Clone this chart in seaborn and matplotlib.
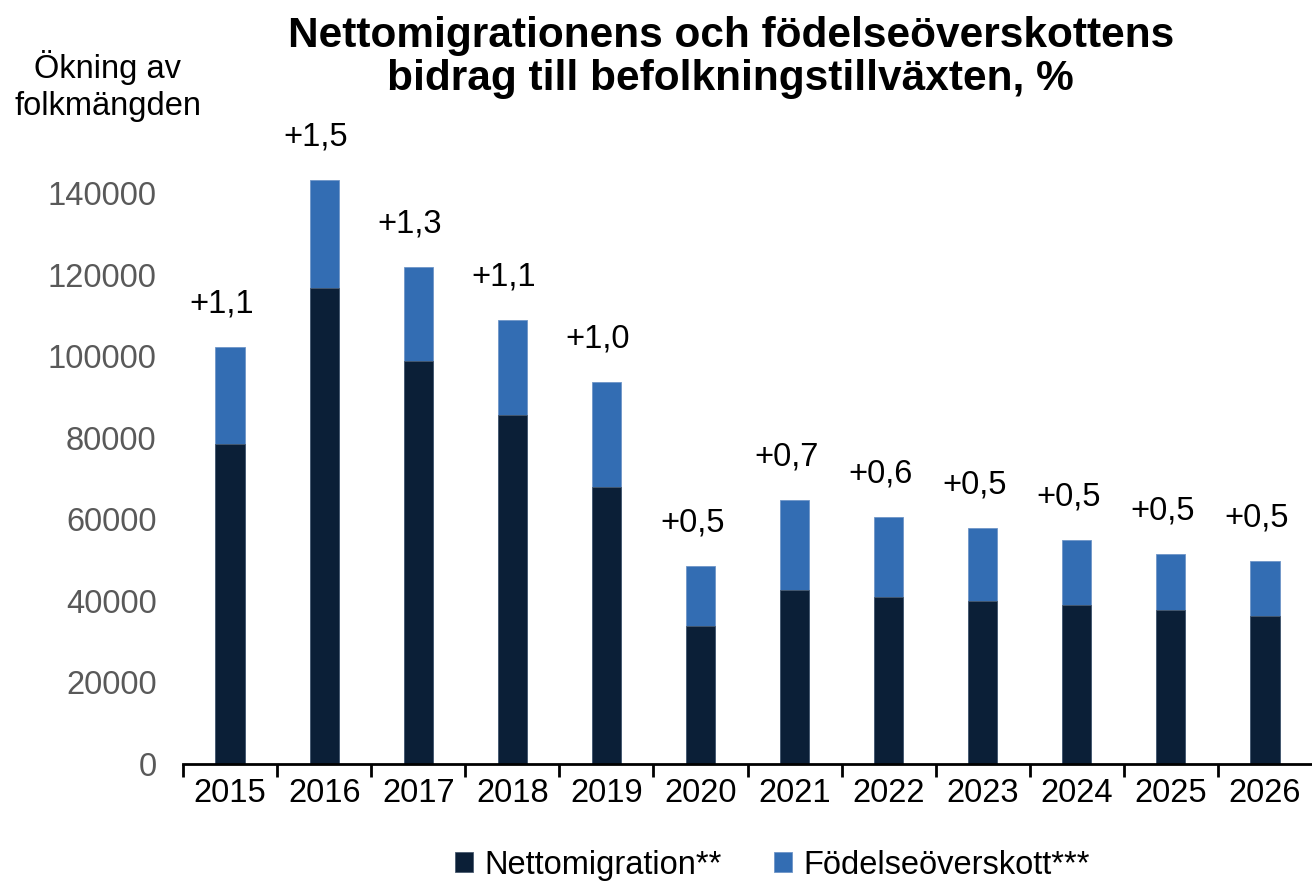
import matplotlib.pyplot as plt
import seaborn as sns
import pandas as pd
from matplotlib.ticker import FixedLocator

years = ["2015", "2016", "2017", "2018", "2019", "2020",
         "2021", "2022", "2023", "2024", "2025", "2026"]
nettomigration = [78500, 116700, 98800, 85600, 67900, 33800,
                  42700, 40900, 40000, 39000, 37800, 36300]
fodelseoverskott = [23700, 26500, 23100, 23300, 25800, 14700,
                    22000, 19700, 17900, 15900, 13700, 13500]
growth_labels = ["+1,1", "+1,5", "+1,3", "+1,1", "+1,0", "+0,5",
                 "+0,7", "+0,6", "+0,5", "+0,5", "+0,5", "+0,5"]

dark = "#0B1F37"
blue = "#336DB3"

df = pd.DataFrame({"year": years, "netto": nettomigration, "fodelse": fodelseoverskott})
df["total"] = df["netto"] + df["fodelse"]

sns.set_style("white")
plt.rcParams["font.family"] = ["Liberation Sans", "DejaVu Sans"]
plt.rcParams["text.color"] = "black"

fs = 23.5

fig = plt.figure(figsize=(13.12, 8.82), dpi=100)
ax = fig.add_axes([0.1395, 0.1338, 0.8605, 0.7397])

sns.barplot(data=df, x="year", y="total", color=blue, width=0.31,
            saturation=1, edgecolor="#6f95c8", linewidth=0.6, ax=ax,
            label="Födelseöverskott***")
sns.barplot(data=df, x="year", y="netto", color=dark, width=0.31,
            saturation=1, edgecolor="#4a5b70", linewidth=0.6, ax=ax,
            label="Nettomigration**")
handles, labels = ax.get_legend_handles_labels()
if ax.get_legend() is not None:
    ax.get_legend().remove()

# growth labels above each bar
for i, (tot, lab) in enumerate(zip(df["total"], growth_labels)):
    ax.annotate(lab, (i, tot), xytext=(-6, 31), textcoords="offset points",
                ha="center", va="center", fontsize=fs, color="black")

ax.set_xlim(-0.5, 11.5)
ax.set_ylim(0, 160000)
ax.set_yticks(range(0, 140001, 20000))
ax.set_xlabel("")
ax.set_ylabel("")

for s in ["top", "right", "left"]:
    ax.spines[s].set_visible(False)
ax.spines["bottom"].set_color("black")
ax.spines["bottom"].set_linewidth(2)

ax.tick_params(axis="y", length=0, labelsize=fs, labelcolor="#595959", pad=19)
ax.tick_params(axis="x", which="major", length=0, labelsize=fs, labelcolor="black", pad=10)
ax.xaxis.set_minor_locator(FixedLocator([i - 0.5 for i in range(12)]))
ax.tick_params(axis="x", which="minor", bottom=True, length=9, width=2,
               color="black", direction="out")

fig.text(0.082, 0.903, "Ökning av\nfolkmängden", ha="center", va="center",
         fontsize=fs, color="black", linespacing=1.25)
fig.text(0.557, 0.935, "Nettomigrationens och födelseöverskottens\nbidrag till befolkningstillväxten, %",
         ha="center", va="center", fontsize=30.5, fontweight="bold", color="black",
         linespacing=1.1)

order = [labels.index("Nettomigration**"), labels.index("Födelseöverskott***")]
fig.legend([handles[k] for k in order], [labels[k] for k in order],
           loc="center", bbox_to_anchor=(0.589, 0.019), ncol=2, frameon=False,
           fontsize=fs, handlelength=0.55, handleheight=0.55, handletextpad=0.35,
           columnspacing=1.6)

fig.savefig("out.png", dpi=100)
